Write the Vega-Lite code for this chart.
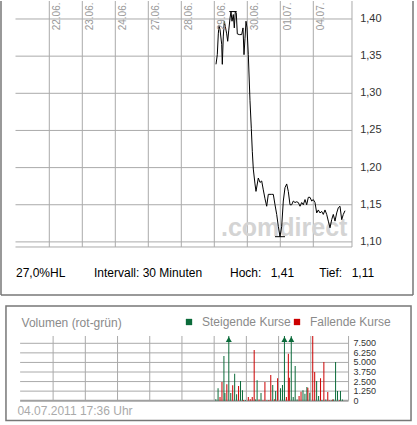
{
  "$schema": "https://vega.github.io/schema/vega-lite/v6.json",
  "description": "comdirect Intraday-Chart: Kurs (30-Minuten-Intervall) und Volumen (rot-gruen), 22.06. bis 04.07.2011",
  "padding": 0,
  "spacing": 9,
  "bounds": "flush",
  "config": {"view": {"stroke": null}, "font": "Liberation Sans"},
  "datasets": {
    "eins": [{}],
    "tage": [
      {"t": 1, "label": "22.06."}, {"t": 2, "label": "23.06."}, {"t": 3, "label": "24.06."},
      {"t": 4, "label": "27.06."}, {"t": 5, "label": "28.06."}, {"t": 6, "label": "29.06."},
      {"t": 7, "label": "30.06."}, {"t": 8, "label": "01.07."}, {"t": 9, "label": "04.07."}
    ],
    "preise": [
      {"p": 1.10, "label": "1,10"}, {"p": 1.15, "label": "1,15"}, {"p": 1.20, "label": "1,20"},
      {"p": 1.25, "label": "1,25"}, {"p": 1.30, "label": "1,30"}, {"p": 1.35, "label": "1,35"},
      {"p": 1.40, "label": "1,40"}
    ],
    "mengen": [
      {"v": 0, "label": "0"}, {"v": 1250, "label": "1.250"}, {"v": 2500, "label": "2.500"},
      {"v": 3750, "label": "3.750"}, {"v": 5000, "label": "5.000"}, {"v": 6250, "label": "6.250"},
      {"v": 7500, "label": "7.500"}
    ],
    "extrema": [
      {"art": "Hoch", "kurs": 1.41, "von": 6.4545, "bis": 6.6788},
      {"art": "Tief", "kurs": 1.107, "von": 7.839, "bis": 8.142}
    ],
    "infozeile": [
      {"text": "27,0%HL", "pos": -0.00909},
      {"text": "Intervall: 30 Minuten", "pos": 2.35455},
      {"text": "Hoch:", "pos": 6.47576},
      {"text": "1,41", "pos": 7.70909},
      {"text": "Tief:", "pos": 9.18182},
      {"text": "1,11", "pos": 10.16364}
    ],
    "kurs": [
      {"t": 6.0515, "kurs": 1.339}, {"t": 6.0909, "kurs": 1.352}, {"t": 6.1212, "kurs": 1.380},
      {"t": 6.1424, "kurs": 1.391}, {"t": 6.1727, "kurs": 1.386}, {"t": 6.2242, "kurs": 1.366},
      {"t": 6.2424, "kurs": 1.339}, {"t": 6.2727, "kurs": 1.377}, {"t": 6.3030, "kurs": 1.397},
      {"t": 6.3333, "kurs": 1.390}, {"t": 6.3758, "kurs": 1.380}, {"t": 6.4061, "kurs": 1.370},
      {"t": 6.4364, "kurs": 1.384}, {"t": 6.4758, "kurs": 1.401}, {"t": 6.5061, "kurs": 1.410},
      {"t": 6.5364, "kurs": 1.397}, {"t": 6.5758, "kurs": 1.406}, {"t": 6.6061, "kurs": 1.388},
      {"t": 6.6364, "kurs": 1.410}, {"t": 6.6667, "kurs": 1.408}, {"t": 6.6970, "kurs": 1.380},
      {"t": 6.7576, "kurs": 1.379}, {"t": 6.8303, "kurs": 1.379}, {"t": 6.8697, "kurs": 1.388},
      {"t": 6.9000, "kurs": 1.352}, {"t": 6.9303, "kurs": 1.374}, {"t": 6.9606, "kurs": 1.397},
      {"t": 6.9909, "kurs": 1.388}, {"t": 7.0303, "kurs": 1.352}, {"t": 7.0818, "kurs": 1.290},
      {"t": 7.1212, "kurs": 1.253}, {"t": 7.1515, "kurs": 1.222}, {"t": 7.1818, "kurs": 1.198},
      {"t": 7.2333, "kurs": 1.178}, {"t": 7.2636, "kurs": 1.168}, {"t": 7.3333, "kurs": 1.186},
      {"t": 7.3848, "kurs": 1.180}, {"t": 7.4364, "kurs": 1.182}, {"t": 7.4848, "kurs": 1.170},
      {"t": 7.5364, "kurs": 1.158}, {"t": 7.5879, "kurs": 1.148}, {"t": 7.6364, "kurs": 1.164},
      {"t": 7.7394, "kurs": 1.164}, {"t": 7.7879, "kurs": 1.164}, {"t": 7.8394, "kurs": 1.150},
      {"t": 7.8909, "kurs": 1.137}, {"t": 7.9394, "kurs": 1.121}, {"t": 7.9909, "kurs": 1.107},
      {"t": 8.0424, "kurs": 1.121}, {"t": 8.0909, "kurs": 1.155}, {"t": 8.1424, "kurs": 1.173},
      {"t": 8.1939, "kurs": 1.178}, {"t": 8.2424, "kurs": 1.168}, {"t": 8.2939, "kurs": 1.150},
      {"t": 8.3455, "kurs": 1.150}, {"t": 8.3939, "kurs": 1.155}, {"t": 8.4455, "kurs": 1.153},
      {"t": 8.4970, "kurs": 1.154}, {"t": 8.5455, "kurs": 1.153}, {"t": 8.5970, "kurs": 1.148},
      {"t": 8.6485, "kurs": 1.153}, {"t": 8.6970, "kurs": 1.150}, {"t": 8.7485, "kurs": 1.157},
      {"t": 8.8000, "kurs": 1.150}, {"t": 8.8485, "kurs": 1.160}, {"t": 8.9000, "kurs": 1.160},
      {"t": 8.9515, "kurs": 1.155}, {"t": 9.0000, "kurs": 1.157}, {"t": 9.0515, "kurs": 1.153},
      {"t": 9.1030, "kurs": 1.139}, {"t": 9.1515, "kurs": 1.143}, {"t": 9.2030, "kurs": 1.139},
      {"t": 9.2545, "kurs": 1.141}, {"t": 9.3030, "kurs": 1.137}, {"t": 9.3545, "kurs": 1.143},
      {"t": 9.4061, "kurs": 1.137}, {"t": 9.4545, "kurs": 1.128}, {"t": 9.5061, "kurs": 1.119},
      {"t": 9.5576, "kurs": 1.130}, {"t": 9.6061, "kurs": 1.137}, {"t": 9.6576, "kurs": 1.128},
      {"t": 9.7091, "kurs": 1.139}, {"t": 9.7576, "kurs": 1.146}, {"t": 9.8091, "kurs": 1.148},
      {"t": 9.8606, "kurs": 1.130}, {"t": 9.9091, "kurs": 1.137}, {"t": 9.9606, "kurs": 1.142}
    ],
    "volumen": [
      {"t": 6.0515, "vol": 180, "typ": "Steigende Kurse"},
      {"t": 6.1212, "vol": 1620, "typ": "Steigende Kurse"},
      {"t": 6.1818, "vol": 480, "typ": "Fallende Kurse"},
      {"t": 6.2424, "vol": 2440, "typ": "Fallende Kurse"},
      {"t": 6.3030, "vol": 5840, "typ": "Steigende Kurse"},
      {"t": 6.3333, "vol": 1000, "typ": "Steigende Kurse"},
      {"t": 6.3939, "vol": 2140, "typ": "Fallende Kurse"},
      {"t": 6.4545, "vol": 8454, "typ": "Steigende Kurse", "ueber": true},
      {"t": 6.5152, "vol": 1000, "typ": "Steigende Kurse"},
      {"t": 6.5758, "vol": 2010, "typ": "Fallende Kurse"},
      {"t": 6.6364, "vol": 3530, "typ": "Steigende Kurse"},
      {"t": 6.6970, "vol": 840, "typ": "Steigende Kurse"},
      {"t": 6.7576, "vol": 1920, "typ": "Fallende Kurse"},
      {"t": 6.8182, "vol": 2570, "typ": "Steigende Kurse"},
      {"t": 6.8788, "vol": 1360, "typ": "Steigende Kurse"},
      {"t": 6.9091, "vol": 90, "typ": "Fallende Kurse"},
      {"t": 6.9697, "vol": 100, "typ": "Steigende Kurse"},
      {"t": 7.0606, "vol": 480, "typ": "Fallende Kurse"},
      {"t": 7.1212, "vol": 200, "typ": "Fallende Kurse"},
      {"t": 7.1818, "vol": 480, "typ": "Fallende Kurse"},
      {"t": 7.2424, "vol": 6620, "typ": "Fallende Kurse"},
      {"t": 7.2848, "vol": 150, "typ": "Steigende Kurse"},
      {"t": 7.3333, "vol": 2660, "typ": "Steigende Kurse"},
      {"t": 7.3939, "vol": 150, "typ": "Fallende Kurse"},
      {"t": 7.4545, "vol": 1000, "typ": "Steigende Kurse"},
      {"t": 7.5152, "vol": 50, "typ": "Fallende Kurse"},
      {"t": 7.5758, "vol": 2440, "typ": "Fallende Kurse"},
      {"t": 7.6364, "vol": 60, "typ": "Steigende Kurse"},
      {"t": 7.6970, "vol": 100, "typ": "Fallende Kurse"},
      {"t": 7.7576, "vol": 3360, "typ": "Fallende Kurse"},
      {"t": 7.8182, "vol": 2050, "typ": "Steigende Kurse"},
      {"t": 7.8788, "vol": 200, "typ": "Fallende Kurse"},
      {"t": 7.9091, "vol": 1280, "typ": "Steigende Kurse"},
      {"t": 7.9697, "vol": 2940, "typ": "Fallende Kurse"},
      {"t": 8.0606, "vol": 1620, "typ": "Steigende Kurse"},
      {"t": 8.1212, "vol": 2050, "typ": "Steigende Kurse"},
      {"t": 8.1818, "vol": 8454, "typ": "Steigende Kurse", "ueber": true},
      {"t": 8.2424, "vol": 480, "typ": "Fallende Kurse"},
      {"t": 8.3030, "vol": 6140, "typ": "Fallende Kurse"},
      {"t": 8.3333, "vol": 3000, "typ": "Fallende Kurse"},
      {"t": 8.3939, "vol": 8454, "typ": "Steigende Kurse", "ueber": true},
      {"t": 8.4545, "vol": 480, "typ": "Steigende Kurse"},
      {"t": 8.5152, "vol": 4530, "typ": "Steigende Kurse"},
      {"t": 8.5758, "vol": 150, "typ": "Steigende Kurse"},
      {"t": 8.6364, "vol": 610, "typ": "Fallende Kurse"},
      {"t": 8.6970, "vol": 1180, "typ": "Fallende Kurse"},
      {"t": 8.7576, "vol": 1360, "typ": "Steigende Kurse"},
      {"t": 8.8182, "vol": 920, "typ": "Steigende Kurse"},
      {"t": 8.8788, "vol": 1790, "typ": "Steigende Kurse"},
      {"t": 8.9091, "vol": 1700, "typ": "Fallende Kurse"},
      {"t": 8.9697, "vol": 1050, "typ": "Steigende Kurse"},
      {"t": 9.0606, "vol": 8454, "typ": "Fallende Kurse"},
      {"t": 9.1212, "vol": 3750, "typ": "Fallende Kurse"},
      {"t": 9.1818, "vol": 2570, "typ": "Steigende Kurse"},
      {"t": 9.2424, "vol": 610, "typ": "Steigende Kurse"},
      {"t": 9.3030, "vol": 2920, "typ": "Fallende Kurse"},
      {"t": 9.3455, "vol": 100, "typ": "Steigende Kurse"},
      {"t": 9.4061, "vol": 5050, "typ": "Fallende Kurse"},
      {"t": 9.4667, "vol": 150, "typ": "Steigende Kurse"},
      {"t": 9.5273, "vol": 1140, "typ": "Fallende Kurse"},
      {"t": 9.5879, "vol": 60, "typ": "Fallende Kurse"},
      {"t": 9.6485, "vol": 60, "typ": "Steigende Kurse"},
      {"t": 9.6788, "vol": 150, "typ": "Fallende Kurse"},
      {"t": 9.7091, "vol": 150, "typ": "Steigende Kurse"},
      {"t": 9.7697, "vol": 5050, "typ": "Steigende Kurse"},
      {"t": 9.8303, "vol": 1280, "typ": "Steigende Kurse"},
      {"t": 9.8909, "vol": 60, "typ": "Fallende Kurse"},
      {"t": 9.9212, "vol": 1280, "typ": "Steigende Kurse"},
      {"t": 9.9818, "vol": 150, "typ": "Steigende Kurse"}
    ]
  },
  "resolve": {"scale": {"x": "independent", "y": "independent", "color": "independent"}, "legend": {"color": "independent"}},
  "vconcat": [
    {
      "width": 414,
      "height": 295,
      "layer": [
        {
          "data": {"name": "tage"},
          "mark": {"type": "rule", "color": "#aaaaaa", "strokeWidth": 1},
          "encoding": {
            "x": {"field": "t", "type": "quantitative", "scale": {"domain": [-0.49394, 12.05152], "nice": false, "zero": false}, "axis": null},
            "y": {"datum": 1.424226, "type": "quantitative", "scale": {"domain": [1.027187, 1.424226], "nice": false, "zero": false}, "axis": null},
            "y2": {"datum": 1.09314}
          }
        },
        {
          "data": {"name": "preise"},
          "mark": {"type": "rule", "color": "#aaaaaa", "strokeWidth": 1},
          "encoding": {
            "y": {"field": "p", "type": "quantitative", "scale": {"domain": [1.027187, 1.424226], "nice": false, "zero": false}, "axis": null},
            "x": {"datum": -0.02424, "type": "quantitative", "scale": {"domain": [-0.49394, 12.05152], "nice": false, "zero": false}, "axis": null},
            "x2": {"datum": 10.17273}
          }
        },
        {
          "data": {"name": "eins"},
          "mark": {"type": "rule", "color": "#aaaaaa", "strokeWidth": 1},
          "encoding": {
            "y": {"datum": 1.09314, "type": "quantitative", "scale": {"domain": [1.027187, 1.424226], "nice": false, "zero": false}, "axis": null},
            "x": {"datum": -0.02424, "type": "quantitative", "scale": {"domain": [-0.49394, 12.05152], "nice": false, "zero": false}, "axis": null},
            "x2": {"datum": 10.17273}
          }
        },
        {
          "data": {"name": "eins"},
          "mark": {"type": "rule", "color": "#aaaaaa", "strokeWidth": 1},
          "encoding": {
            "x": {"datum": 10.17273, "type": "quantitative", "scale": {"domain": [-0.49394, 12.05152], "nice": false, "zero": false}, "axis": null},
            "y": {"datum": 1.424226, "type": "quantitative", "scale": {"domain": [1.027187, 1.424226], "nice": false, "zero": false}, "axis": null},
            "y2": {"datum": 1.09314}
          }
        },
        {
          "data": {"name": "eins"},
          "mark": {"type": "text", "fontSize": 25, "fontWeight": "bold", "color": "#d4d4d4", "align": "left", "baseline": "alphabetic"},
          "encoding": {
            "x": {"datum": 6.203, "type": "quantitative", "scale": {"domain": [-0.49394, 12.05152], "nice": false, "zero": false}, "axis": null},
            "y": {"datum": 1.107941, "type": "quantitative", "scale": {"domain": [1.027187, 1.424226], "nice": false, "zero": false}, "axis": null},
            "text": {"value": ".comdirect"}
          }
        },
        {
          "data": {"name": "kurs"},
          "mark": {"type": "line", "color": "#000000", "strokeWidth": 1},
          "encoding": {
            "x": {"field": "t", "type": "quantitative", "scale": {"domain": [-0.49394, 12.05152], "nice": false, "zero": false}, "axis": null},
            "y": {"field": "kurs", "type": "quantitative", "scale": {"domain": [1.027187, 1.424226], "nice": false, "zero": false}, "axis": null}
          }
        },
        {
          "data": {"name": "extrema"},
          "mark": {"type": "rule", "color": "#000000", "strokeWidth": 1},
          "encoding": {
            "x": {"field": "von", "type": "quantitative", "scale": {"domain": [-0.49394, 12.05152], "nice": false, "zero": false}, "axis": null},
            "x2": {"field": "bis"},
            "y": {"field": "kurs", "type": "quantitative", "scale": {"domain": [1.027187, 1.424226], "nice": false, "zero": false}, "axis": null}
          }
        },
        {
          "data": {"name": "tage"},
          "mark": {"type": "text", "angle": 270, "align": "left", "baseline": "alphabetic", "dy": 10.7, "fontSize": 10, "color": "#999999"},
          "encoding": {
            "x": {"field": "t", "type": "quantitative", "scale": {"domain": [-0.49394, 12.05152], "nice": false, "zero": false}, "axis": null},
            "y": {"datum": 1.38479, "type": "quantitative", "scale": {"domain": [1.027187, 1.424226], "nice": false, "zero": false}, "axis": null},
            "text": {"field": "label"}
          }
        },
        {
          "data": {"name": "preise"},
          "mark": {"type": "text", "align": "left", "baseline": "middle", "fontSize": 11, "color": "#333333"},
          "encoding": {
            "x": {"datum": 10.4212, "type": "quantitative", "scale": {"domain": [-0.49394, 12.05152], "nice": false, "zero": false}, "axis": null},
            "y": {"field": "p", "type": "quantitative", "scale": {"domain": [1.027187, 1.424226], "nice": false, "zero": false}, "axis": null},
            "text": {"field": "label"}
          }
        },
        {
          "data": {"name": "infozeile"},
          "mark": {"type": "text", "align": "left", "baseline": "middle", "fontSize": 12, "color": "#000000"},
          "encoding": {
            "x": {"field": "pos", "type": "quantitative", "scale": {"domain": [-0.49394, 12.05152], "nice": false, "zero": false}, "axis": null},
            "y": {"datum": 1.058143, "type": "quantitative", "scale": {"domain": [1.027187, 1.424226], "nice": false, "zero": false}, "axis": null},
            "text": {"field": "text"}
          }
        },
        {
          "data": {"name": "eins"},
          "mark": {"type": "rule", "color": "#777777", "strokeWidth": 1.5},
          "encoding": {
            "x": {"datum": -0.46364, "type": "quantitative", "scale": {"domain": [-0.49394, 12.05152], "nice": false, "zero": false}, "axis": null},
            "y": {"datum": 1.424226, "type": "quantitative", "scale": {"domain": [1.027187, 1.424226], "nice": false, "zero": false}, "axis": null},
            "y2": {"datum": 1.028533}
          }
        },
        {
          "data": {"name": "eins"},
          "mark": {"type": "rule", "color": "#777777", "strokeWidth": 1.5},
          "encoding": {
            "x": {"datum": 12.02121, "type": "quantitative", "scale": {"domain": [-0.49394, 12.05152], "nice": false, "zero": false}, "axis": null},
            "y": {"datum": 1.424226, "type": "quantitative", "scale": {"domain": [1.027187, 1.424226], "nice": false, "zero": false}, "axis": null},
            "y2": {"datum": 1.028533}
          }
        },
        {
          "data": {"name": "eins"},
          "mark": {"type": "rule", "color": "#777777", "strokeWidth": 1.5},
          "encoding": {
            "y": {"datum": 1.028533, "type": "quantitative", "scale": {"domain": [1.027187, 1.424226], "nice": false, "zero": false}, "axis": null},
            "x": {"datum": -0.46364, "type": "quantitative", "scale": {"domain": [-0.49394, 12.05152], "nice": false, "zero": false}, "axis": null},
            "x2": {"datum": 12.02121}
          }
        }
      ]
    },
    {
      "width": 417,
      "height": 121,
      "layer": [
        {
          "data": {"name": "eins"},
          "mark": {"type": "rect", "fillOpacity": 0, "stroke": "#777777", "strokeWidth": 1.5},
          "encoding": {
            "x": {"datum": -0.46364, "type": "quantitative", "scale": {"domain": [-0.49394, 12.14242], "nice": false, "zero": false}, "axis": null},
            "x2": {"datum": 12.11212},
            "y": {"datum": 12373.7, "type": "quantitative", "scale": {"domain": [-3305.7, 12504.4], "nice": false, "zero": false}, "axis": null},
            "y2": {"datum": -2587.1}
          }
        },
        {
          "data": {"name": "tage"},
          "mark": {"type": "rule", "color": "#aaaaaa", "strokeWidth": 1},
          "encoding": {
            "x": {"field": "t", "type": "quantitative", "scale": {"domain": [-0.49394, 12.14242], "nice": false, "zero": false}, "axis": null},
            "y": {"datum": 8454, "type": "quantitative", "scale": {"domain": [-3305.7, 12504.4], "nice": false, "zero": false}, "axis": null},
            "y2": {"datum": 0}
          }
        },
        {
          "data": {"name": "eins"},
          "mark": {"type": "rule", "color": "#aaaaaa", "strokeWidth": 1},
          "encoding": {
            "x": {"datum": 10.17273, "type": "quantitative", "scale": {"domain": [-0.49394, 12.14242], "nice": false, "zero": false}, "axis": null},
            "y": {"datum": 8454, "type": "quantitative", "scale": {"domain": [-3305.7, 12504.4], "nice": false, "zero": false}, "axis": null},
            "y2": {"datum": 0}
          }
        },
        {
          "data": {"name": "mengen"},
          "transform": [{"filter": "datum.v > 0"}],
          "mark": {"type": "rule", "color": "#aaaaaa", "strokeWidth": 1},
          "encoding": {
            "y": {"field": "v", "type": "quantitative", "scale": {"domain": [-3305.7, 12504.4], "nice": false, "zero": false}, "axis": null},
            "x": {"datum": -0.02424, "type": "quantitative", "scale": {"domain": [-0.49394, 12.14242], "nice": false, "zero": false}, "axis": null},
            "x2": {"datum": 10.17273}
          }
        },
        {
          "data": {"name": "eins"},
          "mark": {"type": "rule", "color": "#a0a0a0", "strokeWidth": 2},
          "encoding": {
            "y": {"datum": 0, "type": "quantitative", "scale": {"domain": [-3305.7, 12504.4], "nice": false, "zero": false}, "axis": null},
            "x": {"datum": -0.02424, "type": "quantitative", "scale": {"domain": [-0.49394, 12.14242], "nice": false, "zero": false}, "axis": null},
            "x2": {"datum": 10.17273}
          }
        },
        {
          "data": {"name": "volumen"},
          "mark": {"type": "bar", "width": 1},
          "encoding": {
            "x": {"field": "t", "type": "quantitative", "scale": {"domain": [-0.49394, 12.14242], "nice": false, "zero": false}, "axis": null},
            "y": {"field": "vol", "type": "quantitative", "scale": {"domain": [-3305.7, 12504.4], "nice": false, "zero": false}, "axis": null},
            "y2": {"datum": 0},
            "color": {
              "field": "typ",
              "type": "nominal",
              "scale": {"domain": ["Steigende Kurse", "Fallende Kurse"], "range": ["#0b6b3a", "#cc0000"]},
              "legend": {
                "orient": "none",
                "legendX": 183,
                "legendY": 11,
                "direction": "horizontal",
                "title": null,
                "padding": 0,
                "symbolType": "square",
                "symbolSize": 40,
                "symbolStrokeWidth": 0,
                "labelFontSize": 12,
                "labelFont": "Liberation Sans",
                "labelColor": "#8a8a8a",
                "labelOffset": 7,
                "columnPadding": 0
              }
            }
          }
        },
        {
          "data": {"name": "volumen"},
          "transform": [{"filter": "datum.ueber"}],
          "mark": {"type": "point", "shape": "triangle-up", "filled": true, "size": 36, "color": "#0b6b3a", "opacity": 1},
          "encoding": {
            "x": {"field": "t", "type": "quantitative", "scale": {"domain": [-0.49394, 12.14242], "nice": false, "zero": false}, "axis": null},
            "y": {"datum": 8022, "type": "quantitative", "scale": {"domain": [-3305.7, 12504.4], "nice": false, "zero": false}, "axis": null}
          }
        },
        {
          "data": {"name": "mengen"},
          "mark": {"type": "text", "align": "left", "baseline": "middle", "fontSize": 9, "color": "#333333"},
          "encoding": {
            "x": {"datum": 10.3242, "type": "quantitative", "scale": {"domain": [-0.49394, 12.14242], "nice": false, "zero": false}, "axis": null},
            "y": {"field": "v", "type": "quantitative", "scale": {"domain": [-3305.7, 12504.4], "nice": false, "zero": false}, "axis": null},
            "text": {"field": "label"}
          }
        },
        {
          "data": {"name": "eins"},
          "mark": {"type": "text", "align": "left", "baseline": "middle", "fontSize": 12, "color": "#8a8a8a"},
          "encoding": {
            "x": {"datum": 0.02121, "type": "quantitative", "scale": {"domain": [-0.49394, 12.14242], "nice": false, "zero": false}, "axis": null},
            "y": {"datum": 10191.6, "type": "quantitative", "scale": {"domain": [-3305.7, 12504.4], "nice": false, "zero": false}, "axis": null},
            "text": {"value": "Volumen (rot-grün)"}
          }
        },
        {
          "data": {"name": "eins"},
          "mark": {"type": "text", "align": "left", "baseline": "middle", "fontSize": 12, "color": "#aaaaaa"},
          "encoding": {
            "x": {"datum": -0.10909, "type": "quantitative", "scale": {"domain": [-0.49394, 12.14242], "nice": false, "zero": false}, "axis": null},
            "y": {"datum": -1280.5, "type": "quantitative", "scale": {"domain": [-3305.7, 12504.4], "nice": false, "zero": false}, "axis": null},
            "text": {"value": "04.07.2011 17:36 Uhr"}
          }
        }
      ]
    }
  ]
}
